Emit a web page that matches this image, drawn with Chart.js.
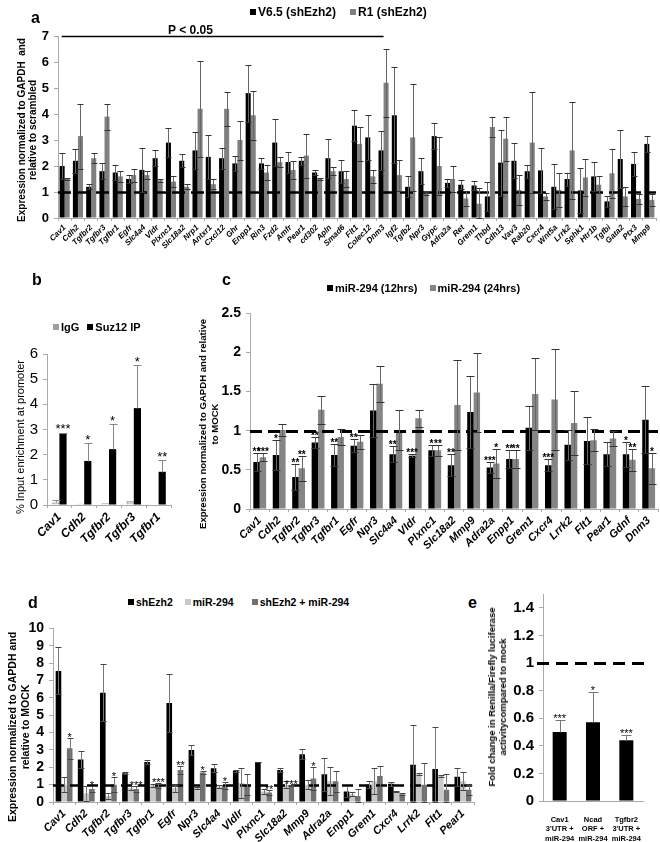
<!DOCTYPE html>
<html><head><meta charset="utf-8">
<script src="https://cdn.jsdelivr.net/npm/chart.js@4/dist/chart.umd.min.js"></script>
<style>
body{margin:0;width:660px;height:842px;position:relative;background:#fff;font-family:"Liberation Sans",Arial,sans-serif;overflow:hidden}
canvas{position:absolute}
.t{position:absolute;white-space:nowrap;color:#000;font-weight:bold;z-index:5}
.letter{font-size:16px}
.sq{display:inline-block;width:6px;height:6px;margin-right:2px;vertical-align:1px}
.yt{position:absolute;transform:translate(-50%,-50%) rotate(-90deg);text-align:center;white-space:nowrap;font-weight:bold;z-index:5}
</style></head><body>
<canvas id="ca" width="660" height="300" style="left:0;top:0"></canvas>
<canvas id="cb" width="200" height="260" style="left:0;top:300px"></canvas>
<canvas id="cc" width="460" height="260" style="left:200px;top:300px"></canvas>
<canvas id="cd" width="480" height="227" style="left:0;top:615px"></canvas>
<canvas id="ce" width="180" height="262" style="left:480px;top:580px"></canvas>

<div class="t letter" style="left:31px;top:9px">a</div>
<div class="t" style="left:250px;top:5px;font-size:12px"><span class="sq" style="background:#000"></span>V6.5 (shEzh2)<span style="display:inline-block;width:14px"></span><span class="sq" style="background:#808080"></span>R1 (shEzh2)</div>
<div class="yt" style="left:27px;top:130px;font-size:10px;line-height:11px">Expression normalized to GAPDH&nbsp; and<br>relative to scrambled</div>

<div class="t letter" style="left:32px;top:271px">b</div>
<div class="t" style="left:53px;top:321px;font-size:11px"><span class="sq" style="background:#a0a0a0"></span>IgG<span style="display:inline-block;width:8px"></span><span class="sq" style="background:#000"></span>Suz12 IP</div>
<div class="yt" style="left:20px;top:437px;font-size:11px;font-weight:normal">% Input enrichment at promoter</div>

<div class="t letter" style="left:222px;top:271px">c</div>
<div class="t" style="left:327px;top:282px;font-size:11px"><span class="sq" style="background:#000"></span>miR-294 (12hrs)<span style="display:inline-block;width:12px"></span><span class="sq" style="background:#858585"></span>miR-294 (24hrs)</div>
<div class="yt" style="left:209px;top:424px;font-size:9.6px;line-height:12px">Expression normalized to GAPDH and relative<br>to MOCK</div>

<div class="t letter" style="left:28px;top:594px">d</div>
<div class="t" style="left:128px;top:596px;font-size:10.5px"><span class="sq" style="background:#000"></span>shEzh2<span style="display:inline-block;width:12px"></span><span class="sq" style="background:#c8c8c8"></span>miR-294<span style="display:inline-block;width:18px"></span><span class="sq" style="background:#707070"></span>shEzh2 + miR-294</div>
<div class="yt" style="left:19px;top:727px;font-size:10.5px;line-height:13px">Expression normalized to GAPDH and<br>relative to MOCK</div>

<div class="t letter" style="left:468px;top:594px">e</div>
<div class="yt" style="left:497px;top:697px;font-size:9.5px;line-height:11px">Fold change in Renilla/Firefly luciferase<br>activitycompared to mock</div>

<script>
// ---------- Panel a ----------
const aGenes = ['Cav1','Cdh2','Tgfbr2','Tgfbr3','Tgfbr1','Egfr','Slc4a4','Vldr','Plxnc1','Slc18a2','Nrp1','Antxr1','Cxcl12','Ghr','Enpp1','Rin3','Fzd2','Amfr','Pear1','cd302','Apln','Smad6','Flt1','Colec12','Dnm3','Igf2','Tgfb2','Npr3','Gypc','Adra2a','Ret','Grem1','Thbd','Cdh13','Vav3','Rab20','Cxcr4','Wnt5a','Lrrk2','Sphk1','Htr1b','Tgfbi','Gata2','Ptx3','Mmp9'];
const aV65 = [2.0,2.2,1.2,1.8,1.75,1.5,1.85,2.3,2.9,2.2,2.6,2.35,2.3,2.1,4.8,2.1,2.9,2.15,2.2,1.75,2.3,1.8,3.55,3.1,2.6,3.95,1.2,1.8,3.15,1.35,1.28,1.25,0.83,2.13,2.2,1.8,1.83,1.2,1.5,1.06,1.6,0.64,2.27,2.08,2.85];
const aV65Err = [0.5,0.45,0.1,0.3,0.3,0.15,0.85,0.3,0.55,0.25,0.7,0.85,0.4,0.3,1.1,0.2,0.9,0.4,0.15,0.1,0.75,0.45,0.6,0.85,0.75,1.85,0.4,0.5,0.5,0.15,0.17,0.18,0.57,1.27,0.67,0.25,0.87,0.87,0.25,0.87,0.56,0.22,1.11,0.47,0.3];
const aR1 = [1.5,3.15,2.3,3.9,1.6,1.65,1.65,1.45,1.4,1.2,4.2,1.3,4.2,3.0,3.95,1.75,2.15,1.85,2.4,1.5,1.8,1.5,2.85,1.6,5.2,1.65,3.1,0.95,2.0,1.5,0.75,0.55,3.5,3.05,1.08,2.9,0.83,1.08,2.6,1.56,1.28,1.72,0.83,0.73,0.7];
const aR1Err = [0.05,1.25,0.2,0.5,0.2,0.25,0.15,0.05,0.2,0.1,1.85,0.2,0.65,0.75,0.95,0.3,0.2,0.35,0.85,0.05,0.15,0.3,0.65,0.25,1.3,0.6,2.05,0.05,1.1,0.5,0.3,0.6,0.4,0.85,0.59,1.95,0.12,0.67,1.87,0.71,0.32,0.95,0.38,0.19,0.23];
const aTicks = [0,1,2,3,4,5,6,7];
const aSigFrom = 'Cav1', aSigTo = 'Dnm3', aSigText = 'P < 0.05';

// ---------- Panel b ----------
const bGenes = ['Cav1','Cdh2','Tgfbr2','Tgfbr3','Tgfbr1'];
const bIgG = [0.1,0.05,0.07,0.15,0.02];
const bIgGErr = [0.1,0,0,0,0];
const bSuz = [2.85,1.75,2.22,3.85,1.32];
const bSuzErr = [0.03,0.7,1.0,1.7,0.48];
const bSuzStars = ['***','*','*','*','**'];
const bTicks = [0,1,2,3,4,5,6];

// ---------- Panel c ----------
const cGenes = ['Cav1','Cdh2','Tgfbr2','Tgfbr3','Tgfbr1','Egfr','Npr3','Slc4a4','Vldr','Plxnc1','Slc18a2','Mmp9','Adra2a','Enpp1','Grem1','Cxcr4','Lrrk2','Flt1','Pear1','Gdnf','Dnm3'];
const c12 = [0.6,0.69,0.41,0.85,0.69,0.81,1.26,0.7,0.68,0.75,0.56,1.24,0.53,0.64,1.04,0.56,0.82,0.87,0.7,0.7,1.14];
const c12Err = [0.12,0.19,0.17,0.07,0.14,0.08,0.34,0.1,0.02,0.07,0.14,0.46,0.07,0.12,0.28,0.08,0.19,0.3,0.15,0.16,0.43];
const c24 = [0.66,1.01,0.52,1.27,0.92,0.86,1.6,1.01,1.16,0.75,1.33,1.49,0.58,0.64,1.47,1.4,1.1,0.88,0.9,0.63,0.52];
const c24Err = [0.05,0.08,0.16,0.18,0.1,0.09,0.23,0.26,0.11,0.07,0.58,0.51,0.19,0.12,0.46,0.65,0.41,0.14,0.1,0.14,0.2];
const c12Stars = ['**','*','**','**','**','**','','**','***','*','**','','***','**','','***','','','','*',''];
const c24Stars = ['***','','**','','','','','','','**','','','*','**','','','','','','**','*'];
const cTicks = [0,0.5,1,1.5,2,2.5];

// ---------- Panel d ----------
const dGenes = ['Cav1','Cdh2','Tgfbr2','Tgfbr3','Tgfbr1','Egfr','Npr3','Slc4a4','Vldlr','Plxnc1','Slc18a2','Mmp9','Adra2a','Enpp1','Grem1','Cxcr4','Lrrk2','Flt1','Pear1'];
const dSh = [7.55,2.45,6.3,1.65,2.3,5.7,3.0,1.95,1.8,2.3,1.85,2.75,1.6,0.6,1.0,1.05,2.15,1.9,1.45];
const dShErr = [1.35,0.5,1.65,0.05,0.1,1.65,0.3,0.25,0.05,0.02,0.1,0.3,0.95,0.3,0.2,0.1,2.3,2.4,0.5];
const dMi = [1.0,0.5,0.35,0.8,0.95,0.8,0.8,0.9,1.1,0.6,1.0,1.0,1.2,0.45,1.2,0.6,1.6,1.5,1.2];
const dMiErr = [0.45,0.45,0.15,0.1,0.1,0.2,0.05,0.1,0.85,0.15,0.2,0.25,0.8,0.1,0.75,0.05,0.05,0.05,0.5];
const dCombo = [3.1,0.75,1.0,0.75,0.95,1.85,1.7,0.95,1.0,0.55,0.95,1.35,1.2,0.35,1.5,0.45,1.0,0.7,0.7];
const dComboErr = [0.6,0.2,0.45,0.2,0.15,0.25,0.1,0.2,0.6,0.15,0.05,0.65,0.6,0.4,0.55,0.05,1.25,0.9,0.3];
const dComboStars = ['*','*','*','***','***','**','*','*','','**','***','*','','','','','','',''];
const dTicks = [0,1,2,3,4,5,6,7,8,9,10];

// ---------- Panel e ----------
const eLabels = [['Cav1',"3'UTR +",'miR-294'],['Ncad','ORF +','miR-294'],['Tgfbr2',"3'UTR +",'miR-294']];
const eVals = [0.5,0.57,0.44];
const eErr = [0.09,0.22,0.04];
const eStars = ['***','*','***'];
const eTicks = [0,0.2,0.4,0.6,0.8,1,1.2,1.4];

Chart.defaults.font.family = '"Liberation Sans", Arial, sans-serif';
Chart.defaults.color = '#000';

const extras = {
  id: 'extras',
  afterDatasetsDraw(chart, args, o) {
    const ctx = chart.ctx, xs = chart.scales.x, ys = chart.scales.y, ca = chart.chartArea;
    ctx.save();
    if (o.ref) {
      const y = Math.round(ys.getPixelForValue(o.ref.value)) + 0.5;
      ctx.strokeStyle = '#000'; ctx.lineWidth = o.ref.width; ctx.setLineDash(o.ref.dash);
      ctx.beginPath(); ctx.moveTo(ca.left + (o.ref.extL || 0), y); ctx.lineTo(ca.right + (o.ref.extR || 0), y); ctx.stroke();
      ctx.setLineDash([]);
    }
    chart.data.datasets.forEach((ds, i) => {
      if (!ds.errs) return;
      const meta = chart.getDatasetMeta(i);
      meta.data.forEach((bar, j) => {
        const v = ds.data[j], e = ds.errs[j];
        const x = Math.round(bar.x) + 0.5;
        const yT = Math.round(ys.getPixelForValue(v + e)) + 0.5;
        const yB = Math.round(o.sym ? ys.getPixelForValue(Math.max(v - e, 0)) : ys.getPixelForValue(v)) + 0.5;
        if (e > 0) {
          ctx.strokeStyle = o.lineColor; ctx.lineWidth = 1;
          ctx.beginPath(); ctx.moveTo(x, yT); ctx.lineTo(x, yB); ctx.stroke();
          ctx.strokeStyle = o.capColor; ctx.lineWidth = o.capLW || 1;
          ctx.beginPath(); ctx.moveTo(x - o.capW, yT); ctx.lineTo(x + o.capW, yT);
          if (o.sym) { ctx.moveTo(x - o.capW, yB); ctx.lineTo(x + o.capW, yB); }
          ctx.stroke();
        }
        if (ds.stars && ds.stars[j]) {
          ctx.fillStyle = '#000'; ctx.font = o.starFont; ctx.textAlign = 'center'; ctx.textBaseline = 'alphabetic';
          ctx.fillText(ds.stars[j], bar.x, Math.min(yT, ys.getPixelForValue(v)) + o.starDy);
        }
      });
    });
    if (o.pline) {
      const labels = chart.data.labels;
      const x0 = xs.getPixelForValue(labels.indexOf(o.pline.from)) - 3;
      const x1 = xs.getPixelForValue(labels.indexOf(o.pline.to));
      const y = Math.round(ys.getPixelForValue(o.pline.value)) + 0.5;
      ctx.strokeStyle = '#000'; ctx.lineWidth = 1.5;
      ctx.beginPath(); ctx.moveTo(x0, y); ctx.lineTo(x1, y); ctx.stroke();
      ctx.fillStyle = '#000'; ctx.font = 'bold 12px "Liberation Sans", Arial'; ctx.textAlign = 'center'; ctx.textBaseline = 'alphabetic';
      ctx.fillText(o.pline.text, x0 + (x1 - x0) * 0.4, y - 3);
    }
    ctx.restore();
  }
};

const fmt = v => String(+(+v).toFixed(2));

function mk(id, left, top, w, h, area, cfg) {
  const yW = area.l - left, padTop = area.t - top, padRight = left + w - area.r, xH = top + h - area.b;
  const s = cfg.scales;
  s.y.afterFit = sc => { sc.width = yW; };
  s.x.afterFit = sc => { sc.height = xH; };
  return new Chart(document.getElementById(id), {
    type: 'bar',
    data: cfg.data,
    options: {
      responsive: false, animation: false, devicePixelRatio: 1,
      layout: { padding: { top: padTop, right: padRight, left: 0, bottom: 0 } },
      plugins: { legend: { display: false }, tooltip: { enabled: false }, extras: cfg.extras },
      scales: s
    },
    plugins: [extras]
  });
}

function yS(min, max, tickVals, font) {
  return {
    min, max,
    afterBuildTicks: sc => { sc.ticks = tickVals.map(v => ({ value: v })); },
    ticks: { font, color: '#000', padding: 5, autoSkip: false, callback: fmt },
    grid: { drawOnChartArea: false, drawTicks: true, tickLength: 4, color: '#aaa' },
    border: { color: '#aaa', width: 1 }
  };
}
function xS(font, cat, bar, extra) {
  return Object.assign({
    categoryPercentage: cat, barPercentage: bar,
    ticks: { font, color: '#000', minRotation: 45, maxRotation: 45, autoSkip: false, padding: 2 },
    grid: { drawOnChartArea: false, drawTicks: true, tickLength: 3, color: '#aaa', offset: true },
    border: { color: '#aaa', width: 1 }
  }, extra || {});
}

// Panel a
mk('ca', 0, 0, 660, 300, { l: 58, t: 36, r: 656, b: 218 }, {
  data: { labels: aGenes, datasets: [
    { label: 'V6.5 (shEzh2)', data: aV65, errs: aV65Err, backgroundColor: '#000', categoryPercentage: 0.76, barPercentage: 1 },
    { label: 'R1 (shEzh2)', data: aR1, errs: aR1Err, backgroundColor: '#808080', categoryPercentage: 0.76, barPercentage: 1 }
  ] },
  scales: {
    x: xS({ size: 8, weight: 'bold', style: 'italic' }, 0.76, 1),
    y: yS(0, 7, aTicks, { size: 13, weight: 'bold' })
  },
  extras: { ref: { value: 1, width: 2.5, dash: [13, 6] }, sym: true, lineColor: '#666', capColor: '#333', capW: 3, starFont: 'bold 10px Arial', starDy: 1,
    pline: { from: aSigFrom, to: aSigTo, value: 7, text: aSigText } }
});

// Panel b
mk('cb', 0, 300, 200, 260, { l: 47, t: 354, r: 171, b: 505 }, {
  data: { labels: bGenes, datasets: [
    { label: 'IgG', data: bIgG, errs: bIgGErr, backgroundColor: '#d0d0d0', borderColor: '#777', borderWidth: 1, categoryPercentage: 0.58, barPercentage: 1 },
    { label: 'Suz12 IP', data: bSuz, errs: bSuzErr, stars: bSuzStars, backgroundColor: '#000', categoryPercentage: 0.58, barPercentage: 1 }
  ] },
  scales: {
    x: xS({ size: 12, weight: 'bold', style: 'italic' }, 0.58, 1),
    y: yS(0, 6, bTicks, { size: 15 })
  },
  extras: { sym: false, lineColor: '#888', capColor: '#888', capW: 4, starFont: '13px Arial', starDy: 0 }
});

// Panel c
mk('cc', 200, 300, 460, 260, { l: 250, t: 313, r: 660, b: 509 }, {
  data: { labels: cGenes, datasets: [
    { label: 'miR-294 (12hrs)', data: c12, errs: c12Err, stars: c12Stars, backgroundColor: '#000', categoryPercentage: 0.66, barPercentage: 1 },
    { label: 'miR-294 (24hrs)', data: c24, errs: c24Err, stars: c24Stars, backgroundColor: '#858585', categoryPercentage: 0.66, barPercentage: 1 }
  ] },
  scales: {
    x: xS({ size: 11, weight: 'bold', style: 'italic' }, 0.66, 1),
    y: yS(0, 2.5, cTicks, { size: 14, weight: 'bold' })
  },
  extras: { ref: { value: 1, width: 3, dash: [12, 6] }, sym: true, lineColor: '#666', capColor: '#333', capW: 4, starFont: 'bold 10px Arial', starDy: 1 }
});

// Panel d
mk('cd', 0, 615, 480, 227, { l: 53, t: 628, r: 474, b: 802 }, {
  data: { labels: dGenes, datasets: [
    { label: 'shEzh2', data: dSh, errs: dShErr, backgroundColor: '#000', categoryPercentage: 0.76, barPercentage: 1 },
    { label: 'miR-294', data: dMi, errs: dMiErr, backgroundColor: '#c8c8c8', categoryPercentage: 0.76, barPercentage: 1 },
    { label: 'shEzh2 + miR-294', data: dCombo, errs: dComboErr, stars: dComboStars, backgroundColor: '#707070', categoryPercentage: 0.76, barPercentage: 1 }
  ] },
  scales: {
    x: xS({ size: 11, weight: 'bold', style: 'italic' }, 0.76, 1),
    y: yS(0, 10, dTicks, { size: 14, weight: 'bold' })
  },
  extras: { ref: { value: 1, width: 2.5, dash: [11, 6], extR: 3 }, sym: true, lineColor: '#777', capColor: '#444', capW: 3, starFont: '11px Arial', starDy: 2 }
});

// Panel e
mk('ce', 480, 580, 180, 262, { l: 543, t: 591, r: 643, b: 801 }, {
  data: { labels: eLabels, datasets: [
    { label: 'Renilla/Firefly', data: eVals, errs: eErr, stars: eStars, backgroundColor: '#000', categoryPercentage: 0.42, barPercentage: 1 }
  ] },
  scales: {
    x: xS(null, 0.42, 1, {
      ticks: { font: { size: 7.5, weight: 'bold', lineHeight: 1.25 }, color: '#000', minRotation: 0, maxRotation: 0, autoSkip: false, padding: 6 },
      grid: { display: false }
    }),
    y: yS(0, 1.5, eTicks, { size: 15, weight: 'bold' })
  },
  extras: { ref: { value: 1, width: 3, dash: [12, 7], extL: -6, extR: 8 }, sym: false, lineColor: '#777', capColor: '#777', capW: 5, starFont: '11px Arial', starDy: 1 }
});
</script>
</body></html>
